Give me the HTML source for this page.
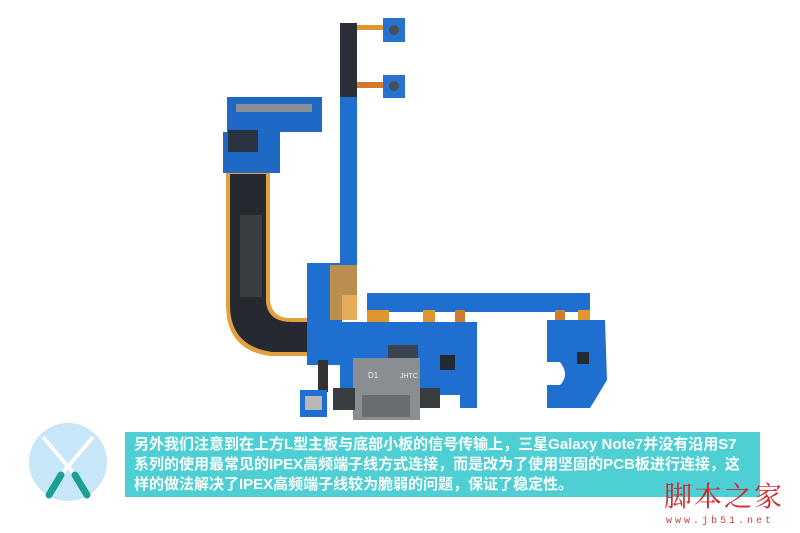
<!DOCTYPE html>
<html><head><meta charset="utf-8"><style>
body{margin:0;width:800px;height:533px;background:#fff;overflow:hidden;position:relative;font-family:"Liberation Sans","Noto Sans CJK SC",sans-serif}
.cap{position:absolute;left:125px;top:432px;width:635px;height:65px;background:#4dcfd3}
.cap div{position:absolute;left:9px;color:#fff;font-size:15px;font-weight:bold;white-space:nowrap;line-height:20px}
</style></head><body>
<svg width="800" height="533" style="position:absolute;left:0;top:0">
 <path d="M226 170 L270 170 L270 300 Q272 318 290 318 L312 318 L312 356 L270 356 Q226 350 226 305 Z" fill="#e3a040"/>
 <path d="M230 174 L266 174 L266 302 Q268 322 292 322 L310 322 L310 352 L272 352 Q230 346 230 305 Z" fill="#262a30"/>
 <rect x="240" y="215" width="22" height="82" fill="#3a3d42"/>
 <path d="M227 97 L322 97 L322 132 L280 132 L280 173 L223 173 L223 132 L227 132 Z" fill="#1f68c4"/>
 <rect x="236" y="104" width="76" height="8" fill="#8a8f96"/>
 <rect x="228" y="130" width="30" height="22" fill="#2a3340"/>
 <rect x="340" y="23" width="17" height="75" fill="#2c3036"/>
 <rect x="340" y="97" width="17" height="198" fill="#1f6fd0"/>
 <rect x="357" y="25" width="26" height="5" fill="#e0962e"/>
 <rect x="357" y="82" width="26" height="6" fill="#d07a30"/>
 <rect x="383" y="18" width="22" height="24" fill="#2a72d0"/>
 <rect x="383" y="75" width="22" height="23" fill="#2a72d0"/>
 <circle cx="394" cy="30" r="5" fill="#4a4f55"/><circle cx="394" cy="86" r="5" fill="#4a4f55"/>
 <rect x="307" y="263" width="35" height="60" fill="#1f6fd0"/>
 <rect x="330" y="265" width="27" height="55" fill="#e0962e" opacity=".8"/>
 <rect x="367" y="293" width="223" height="19" fill="#1f6fd0"/>
 <rect x="367" y="310" width="22" height="14" fill="#e0962e"/>
 <rect x="423" y="310" width="12" height="14" fill="#e0962e"/>
 <rect x="455" y="310" width="10" height="14" fill="#d07a30"/>
 <rect x="555" y="310" width="10" height="12" fill="#d07a30"/>
 <rect x="578" y="310" width="12" height="12" fill="#e0962e"/>
 <path d="M307 322 L477 322 L477 408 L460 408 L460 395 L420 395 L420 380 L353 380 L353 395 L340 395 L340 365 L307 365 Z" fill="#1f6fd0"/>
 <rect x="388" y="345" width="30" height="14" fill="#3b4450"/>
 <rect x="440" y="355" width="15" height="15" fill="#252a30"/>
 <rect x="353" y="358" width="67" height="62" fill="#8a8e92"/>
 <rect x="362" y="395" width="48" height="22" fill="#6a6e73"/>
 <rect x="333" y="388" width="22" height="22" fill="#3a3d40"/>
 <rect x="420" y="388" width="20" height="20" fill="#3a3d40"/>
 <text x="368" y="378" font-size="8" fill="#eee" font-family="Liberation Sans">D1</text>
 <text x="400" y="378" font-size="7" fill="#eee" font-family="Liberation Sans">JHTC</text>
 <rect x="318" y="360" width="10" height="32" fill="#333"/>
 <rect x="300" y="390" width="27" height="27" fill="#1f6fd0"/>
 <rect x="305" y="396" width="17" height="14" fill="#b8b8b8"/>
 <path d="M547 320 L605 320 L607 380 L595 400 L590 408 L547 408 L547 385 L560 385 Q570 375 560 362 L547 362 Z" fill="#1f6fd0"/>
 <rect x="577" y="352" width="12" height="12" fill="#252a30"/>
</svg>
<svg width="90" height="90" style="position:absolute;left:23px;top:417px">
 <circle cx="45" cy="45" r="39" fill="#c7e6f7"/>
 <line x1="20" y1="20" x2="52" y2="58" stroke="#fff" stroke-width="4"/>
 <line x1="70" y1="20" x2="38" y2="58" stroke="#fff" stroke-width="4"/>
 <line x1="38" y1="58" x2="26" y2="78" stroke="#1aa192" stroke-width="7" stroke-linecap="round"/>
 <line x1="52" y1="58" x2="64" y2="78" stroke="#1aa192" stroke-width="7" stroke-linecap="round"/>
</svg>
<div class="cap">
 <div style="top:3px">另外我们注意到在上方L型主板与底部小板的信号传输上，三星Galaxy Note7并没有沿用S7</div>
 <div style="top:23px">系列的使用最常见的IPEX高频端子线方式连接，而是改为了使用坚固的PCB板进行连接，这</div>
 <div style="top:43px">样的做法解决了IPEX高频端子线较为脆弱的问题，保证了稳定性。</div>
</div>
<div style="position:absolute;left:664px;top:478px;font-size:28px;line-height:34px;color:#d2272c;font-family:'Noto Serif CJK SC',serif;letter-spacing:2px">脚本之家</div>
<div style="position:absolute;left:666px;top:516px;font-size:10px;line-height:12px;color:#c44;letter-spacing:3px;font-family:'Liberation Mono',monospace">www.jb51.net</div>
</body></html>
